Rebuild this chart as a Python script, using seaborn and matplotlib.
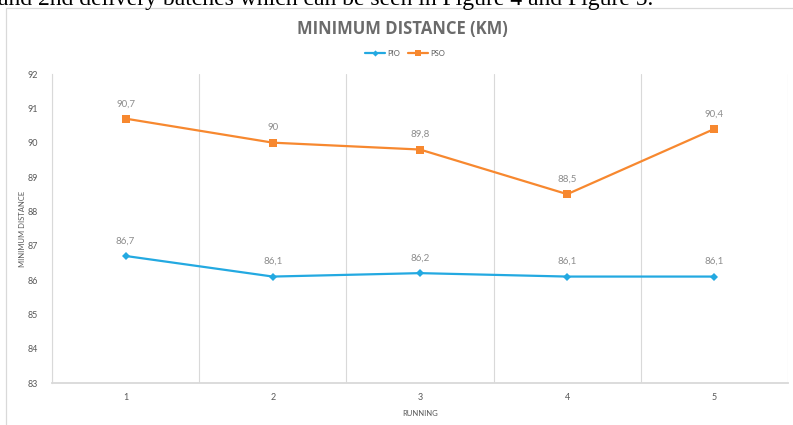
import matplotlib
matplotlib.use("Agg")
import matplotlib.pyplot as plt
from matplotlib.patches import Rectangle
from matplotlib.lines import Line2D
import pandas as pd
import seaborn as sns

# Minimum distance (km) per run for each optimiser
runs = [1, 2, 3, 4, 5]
pio = [86.7, 86.1, 86.2, 86.1, 86.1]
pso = [90.7, 90.0, 89.8, 88.5, 90.4]
methods = ["PIO", "PSO"]
y_ticks = [83, 84, 85, 86, 87, 88, 89, 90, 91, 92]

title = "MINIMUM DISTANCE (KM)"
x_label = "RUNNING"
y_label = "MINIMUM DISTANCE"
body_text = "and 2nd delivery batches which can be seen in Figure 4 and Figure 5."

colors = {"PIO": "#23A9E1", "PSO": "#F7882F"}
marker_map = {"PIO": "D", "PSO": "s"}
marker_size = {"PIO": 4.2, "PSO": 5.5}

df = pd.DataFrame({
    "run": runs * 2,
    "dist": pio + pso,
    "method": ["PIO"] * len(runs) + ["PSO"] * len(runs),
})

sns.set_style("white")
plt.rcParams["font.family"] = ["Lato", "DejaVu Sans"]

W, H = 793, 425
fig = plt.figure(figsize=(W / 100, H / 100), dpi=100)
fig.patch.set_facecolor("white")

# Chart frame (extends past the right and bottom edges)
frame = Rectangle((6 / W, -0.05), 1.2, 1 - 8 / H + 0.05, transform=fig.transFigure,
                  facecolor="none", edgecolor="#D9D9D9", linewidth=0.9, zorder=0)
fig.patches.append(frame)

# Running sentence above the chart
fig.text(-2 / W, 1 - 5 / H, body_text, family="Liberation Serif", fontsize=17,
         color="black", ha="left", va="baseline")

ax = fig.add_axes([52 / W, 1 - 383 / H, (788 - 52) / W, (383 - 74) / H])
sns.lineplot(data=df, x="run", y="dist", hue="method", style="method",
             markers=marker_map, dashes=False, palette=colors, linewidth=1.6,
             markersize=5, markeredgewidth=0, ax=ax, legend=False, zorder=3)

# Per-series marker sizes
for line in ax.lines:
    for m in methods:
        if line.get_marker() == marker_map[m]:
            line.set_markersize(marker_size[m])

ax.set_xlim(0.5, 5.5)
ax.set_ylim(83, 92)
ax.set_yticks(y_ticks)
ax.set_xticks(runs)
ax.tick_params(axis="both", length=0, labelsize=6.5, labelcolor="#595959")
ax.tick_params(axis="y", pad=10)
ax.tick_params(axis="x", pad=7)

# Category boundary gridlines
for xb in [0.5 + i for i in range(len(runs) + 1)]:
    ax.axvline(xb, color="#D9D9D9", linewidth=0.8, zorder=1)

for side in ["top", "right"]:
    ax.spines[side].set_visible(False)
ax.spines["left"].set_color("#D9D9D9")
ax.spines["left"].set_linewidth(0.8)
ax.spines["bottom"].set_color("#D9D9D9")
ax.spines["bottom"].set_linewidth(1.3)

ax.set_xlabel(x_label, fontsize=5.5, color="#595959", labelpad=6)
ax.set_ylabel(y_label, fontsize=5.5, color="#595959", labelpad=1.5)

# Value labels above each point
for name, vals in zip(methods, [pio, pso]):
    for r, v in zip(runs, vals):
        ax.annotate(f"{v:g}".replace(".", ","), (r, v), xytext=(0, 7.5),
                    textcoords="offset points", ha="center", va="bottom",
                    fontsize=7, color="#8C8C8C")

fig.text(402 / W, 1 - 29 / H, title, family="Open Sans", fontweight="bold",
         fontsize=12, color="#6B6B6B", ha="center", va="center")

handles = [Line2D([0], [0], color=colors[m], marker=marker_map[m],
                  markersize=marker_size[m] * 0.75, markeredgewidth=0,
                  linewidth=1.6) for m in methods]
fig.legend(handles, methods, loc="center", bbox_to_anchor=(405 / W, 1 - 53 / H),
           ncol=2, frameon=False, fontsize=5.5, labelcolor="#595959",
           handlelength=2.6, handletextpad=0.3, columnspacing=1.0)

fig.savefig("out.png", dpi=100, facecolor="white")
